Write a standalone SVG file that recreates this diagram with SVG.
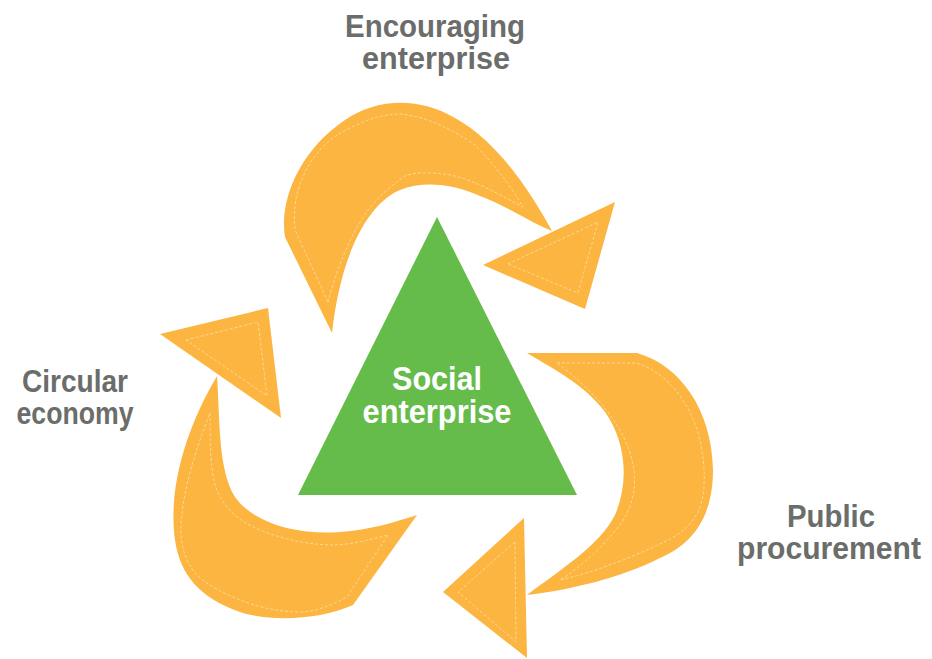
<svg xmlns="http://www.w3.org/2000/svg" width="932" height="659" viewBox="0 0 932 659">
  <style>
    .arrow { fill: #fbb540; stroke: none; }
    .inset { fill: none; stroke: #fde2a8; stroke-width: 0.8; stroke-dasharray: 3 2; }
    .label { font-family: "Liberation Sans", Arial, sans-serif; font-weight: bold; font-size: 32px; fill: #6b6d6a; }
    .center { font-family: "Liberation Sans", Arial, sans-serif; font-weight: bold; font-size: 33px; fill: #ffffff; }
  </style>
  <rect width="932" height="659" fill="#ffffff"/>

  <g id="connectors">
    <g id="arrow-top">
      <path class="arrow" d="M332,333 L285,237 C279,200 300,150 345,120 C380,97 420,98 455,118 C500,143 532,195 552,231 C530,222 505,205 480,196 C455,185 425,180 400,190 C365,205 340,260 332,333 Z"/>
      <path class="inset" d="M328,302 L295,230 C292,200 300,180 310,163 C322,145 335,135 350,128 C370,118 385,114 400,114 C425,116 450,128 475,145 C495,165 510,185 523,207 C500,195 475,180 450,175 C430,172 415,172 405,176 C385,190 370,205 360,222 C345,248 335,275 328,302 Z"/>
      <polygon class="arrow" points="483,265 615,202 585,309"/>
      <polygon class="inset" points="508,264 598,222 578,293"/>
    </g>
    <g id="arrow-right">
      <path class="arrow" d="M527,353 L637,353 C680,365 712,410 713,470 C713,520 690,545 660,558 C620,578 570,590 527,595 C560,570 600,545 615,515 C630,480 625,440 605,412 C585,385 555,370 527,353 Z"/>
      <path class="inset" d="M557,363 L637,363 C665,372 690,400 700,440 C706,470 706,495 698,512 C688,530 675,537 660,544 C630,558 595,572 560,580 C580,568 605,545 622,522 C635,502 637,480 632,460 C625,430 600,395 557,363 Z"/>
      <polygon class="arrow" points="524,518 443,592 527,658"/>
      <polygon class="inset" points="515,542 458,592 516,642"/>
    </g>
    <g id="arrow-left">
      <path class="arrow" d="M217,376 C220,420 218,470 235,497 C255,525 300,535 340,532 C370,530 395,522 417,515 L353,605 C320,620 270,622 240,612 C200,598 180,575 175,540 C168,490 185,430 217,376 Z"/>
      <path class="inset" d="M210,413 C210,440 210,465 215,485 C222,505 235,520 260,530 C285,540 310,545 335,545 C355,544 372,539 388,535 L347,597 C330,606 315,612 300,612 C275,612 250,605 233,597 C210,587 195,577 188,562 C180,545 180,530 182,515 C184,490 195,450 210,413 Z"/>
      <polygon class="arrow" points="160,334 268,308 281,418"/>
      <polygon class="inset" points="186,340 258,322 267,396"/>
    </g>
  </g>

  <g id="node-social-enterprise">
    <polygon points="437,217 298,495 577,495" fill="#66bc4b"/>
    <text class="center" text-anchor="middle"><tspan x="437" y="390" textLength="90" lengthAdjust="spacingAndGlyphs">Social</tspan><tspan x="437" y="423" textLength="149" lengthAdjust="spacingAndGlyphs">enterprise</tspan></text>
  </g>

  <g id="node-encouraging-enterprise">
    <text class="label" text-anchor="middle"><tspan x="435" y="37" textLength="180" lengthAdjust="spacingAndGlyphs">Encouraging</tspan><tspan x="436" y="69" textLength="148" lengthAdjust="spacingAndGlyphs">enterprise</tspan></text>
  </g>

  <g id="node-circular-economy">
    <text class="label" text-anchor="middle"><tspan x="75" y="392" textLength="106" lengthAdjust="spacingAndGlyphs">Circular</tspan><tspan x="75" y="424" textLength="117" lengthAdjust="spacingAndGlyphs">economy</tspan></text>
  </g>

  <g id="node-public-procurement">
    <text class="label" text-anchor="middle"><tspan x="831" y="527" textLength="88" lengthAdjust="spacingAndGlyphs">Public</tspan><tspan x="829" y="559" textLength="184" lengthAdjust="spacingAndGlyphs">procurement</tspan></text>
  </g>
</svg>
